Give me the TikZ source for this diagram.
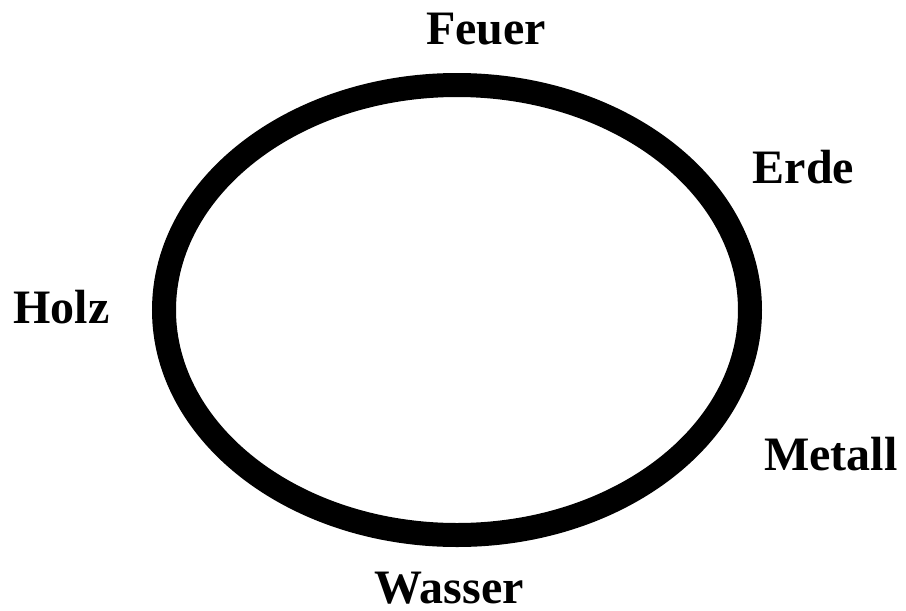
\documentclass[tikz,border=0pt]{standalone}
\usepackage{fontspec}
\setmainfont{Liberation Serif}
\begin{document}
\begin{tikzpicture}[x=1pt,y=-1pt,
  lbl/.style={font=\fontsize{48}{48}\selectfont\bfseries, inner sep=0pt, anchor=base, text=black},
  ring/.style={draw=black, line width=24pt}]
\useasboundingbox (0,0) rectangle (906,611);
\draw[ring] (457,310) ellipse [x radius=293, y radius=225];
\node[lbl] (feuer) at (486,44) {Feuer};
\node[lbl] (erde) at (803.5,183) {Erde};
\node[lbl] (holz) at (61.5,323) {Holz};
\node[lbl] (metall) at (831,470) {Metall};
\node[lbl] (wasser) at (449,603) {Wasser};
\end{tikzpicture}
\end{document}
